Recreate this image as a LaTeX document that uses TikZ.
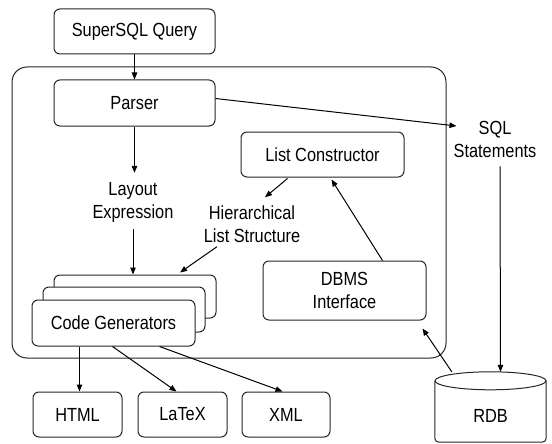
\documentclass[tikz,border=0pt]{standalone}
\usepackage{fontspec}
\setmainfont[FakeStretch=0.86]{Liberation Sans}
\usetikzlibrary{arrows.meta,calc}
\begin{document}
\begin{tikzpicture}[x=1pt,y=-1pt,
  font=\fontsize{19}{23}\selectfont,
  box/.style={draw=black!85, line width=1pt, rounded corners=6pt, fill=white, inner sep=0pt},
  arr/.style={-{Triangle[length=7pt,width=5.5pt]}, line width=1pt},
  lbl/.style={align=center, inner sep=1pt}]
\useasboundingbox (0,0) rectangle (552,444);
% container
\node[box, rounded corners=15pt, minimum width=434pt, minimum height=291pt] (sys) at (229,212.5) {};
% boxes
\node[box, minimum width=161pt, minimum height=45pt] (sq) at (134.5,31.5) {SuperSQL Query};
\node[box, minimum width=161pt, minimum height=46pt] (parser) at (134.5,103) {Parser};
\node[box, minimum width=163pt, minimum height=45pt] (lc) at (322.5,154.5) {List Constructor};
\node[box, minimum width=163pt, minimum height=59pt, align=center] (dbms) at (344.5,290.5) {DBMS\\Interface};
\node[box, minimum width=162pt, minimum height=43pt] (cg3) at (135,296.5) {};
\node[box, minimum width=162pt, minimum height=45pt] (cg2) at (124,309.5) {};
\node[box, minimum width=163pt, minimum height=46pt] (cg1) at (113.5,323) {Code Generators};
\node[box, minimum width=89pt, minimum height=45pt] (html) at (77.5,414.5) {HTML};
\node[box, minimum width=89pt, minimum height=45pt] (latex) at (182.5,414.5) {LaTeX};
\node[box, minimum width=88pt, minimum height=45pt] (xml) at (286,414.5) {XML};
% labels
\node[lbl] (layout) at (133,202) {Layout\\Expression};
\node[lbl] (hls) at (252,224) {Hierarchical\\List Structure};
\node[lbl] (sqlst) at (495,139) {SQL\\Statements};
% RDB cylinder
\node[minimum width=111pt, minimum height=70pt, inner sep=0pt] (rdb) at (490.5,407) {};
\draw[line width=1pt, draw=black!85, rounded corners=4pt] ($(rdb.north west)+(0,9)$) -- (rdb.south west) -- (rdb.south east) -- ($(rdb.north east)+(0,9)$);
\draw[line width=1pt, draw=black!85] ($(rdb.north)+(0,9)$) ellipse [x radius=55.5pt, y radius=9pt];
\node at ($(rdb.center)+(0,9)$) {RDB};
% connectors
\draw[arr] (sq.south) -- (parser.north);
\draw[arr, shorten >=8pt] (parser.south) -- (parser.south |- layout.north);
\draw[arr, shorten <=6pt] (layout.south) -- (layout.south |- cg3.north);
\draw[arr] ($(parser.north east)+(0,19)$) -- ($(sqlst.west)+(4,-13)$);
\draw[arr] ($(sqlst.south)+(5,8)$) -- ($(rdb.north)+(10,0)$);
\draw[arr] ($(lc.south west)+(47,1)$) -- ($(hls.north)+(13,-7)$);
\draw[arr] ($(hls.south)+(-35,3)$) -- ($(cg3.north)+(45,-2)$);
\draw[arr] ($(dbms.north west)+(120,0)$) -- ($(lc.south west)+(91,2)$);
\draw[arr] ($(rdb.north west)+(17,0)$) -- ($(dbms.south east)+(-4,8)$);
\draw[arr] ($(cg1.south west)+(48,0)$) -- ($(html.north west)+(47,0)$);
\draw[arr] ($(cg1.south west)+(81,0)$) -- ($(latex.north west)+(39,0)$);
\draw[arr] ($(cg1.south west)+(128,0)$) -- ($(xml.north west)+(41,0)$);
\end{tikzpicture}
\end{document}
